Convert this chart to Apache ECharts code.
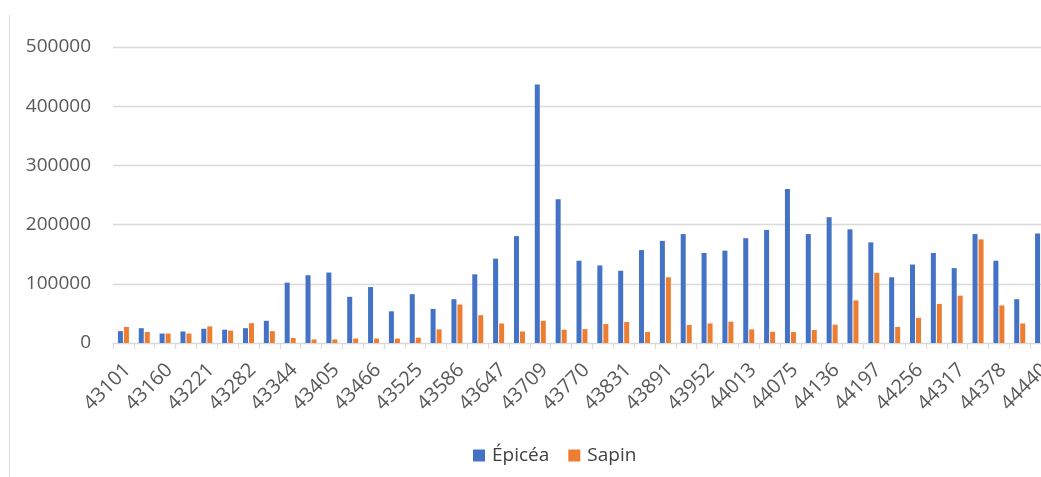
<!DOCTYPE html>
<html>
<head>
<meta charset="utf-8">
<title>Épicéa / Sapin</title>
<script src="https://cdn.jsdelivr.net/npm/echarts@6/dist/echarts.min.js"></script>
<style>
  html, body { margin: 0; padding: 0; background: #ffffff; }
  #chart { width: 1041px; height: 477px; }
</style>
</head>
<body>
<div id="chart"></div>
<script>
// Monthly periods as spreadsheet date serials (Jan 2018 – Sep 2021)
const categories = [
  43101, 43132, 43160, 43191, 43221, 43252, 43282, 43313, 43344, 43374, 43405, 43435,
  43466, 43497, 43525, 43556, 43586, 43617, 43647, 43678, 43709, 43739, 43770, 43800,
  43831, 43862, 43891, 43922, 43952, 43983, 44013, 44044, 44075, 44105, 44136, 44166,
  44197, 44228, 44256, 44287, 44317, 44348, 44378, 44409, 44440
];

const epicea = [
  20000, 25000, 16000, 19500, 24000, 22500, 25000, 37500, 102000, 114500, 119000, 78000,
  94500, 53500, 82500, 57500, 74000, 116000, 142500, 180500, 436500, 243000, 139000, 131000,
  122000, 157000, 172500, 184000, 152000, 156000, 177000, 191000, 260000, 184000, 212500, 192000,
  170000, 111000, 132500, 152000, 126500, 184000, 139000, 74000, 185000
];

const sapin = [
  27000, 18500, 16000, 16000, 28000, 21000, 33500, 20000, 8500, 6000, 6000, 7500,
  7500, 7500, 9000, 23000, 65000, 47000, 33000, 19500, 37500, 22500, 23500, 32000,
  35500, 18500, 111000, 30500, 33000, 36000, 23000, 19000, 18500, 22000, 31000, 72000,
  118500, 27000, 42500, 66000, 80000, 175000, 63500, 33000, 30000
];

const yTicks = { min: 0, max: 500000, interval: 100000 };

const FONT = '"Open Sans", "Liberation Sans", sans-serif';
const BLUE = '#4472C4';
const ORANGE = '#ED7D31';

const chart = echarts.init(document.getElementById('chart'), null, { renderer: 'canvas' });

chart.setOption({
  animation: false,
  backgroundColor: '#ffffff',
  textStyle: { fontFamily: FONT },
  graphic: [{
    type: 'line',
    shape: { x1: 9.5, y1: 15, x2: 9.5, y2: 477 },
    style: { stroke: '#d9d9d9', lineWidth: 1 },
    silent: true
  }],
  legend: {
    data: ['Épicéa', 'Sapin'],
    left: 468,
    top: 441,
    icon: 'rect',
    itemWidth: 12,
    itemHeight: 12,
    itemGap: 19,
    textStyle: { fontFamily: FONT, fontSize: 19, color: '#404040', padding: [0, 0, 0, 2] }
  },
  grid: {
    left: 113,
    top: 47,
    width: 938,
    bottom: 134,
    containLabel: false,
    outerBoundsMode: 'none'
  },
  xAxis: {
    type: 'category',
    data: categories,
    boundaryGap: true,
    axisLine: { show: true, lineStyle: { color: '#d9d9d9', width: 1 } },
    axisTick: { show: true, alignWithLabel: false, interval: 0, length: 6, lineStyle: { color: '#d9d9d9' } },
    axisLabel: {
      interval: 1,
      rotate: 45,
      margin: 28,
      padding: [5, -6, 0, 0],
      fontFamily: FONT,
      fontSize: 20,
      color: '#595959'
    },
    splitLine: { show: false }
  },
  yAxis: {
    type: 'value',
    min: yTicks.min,
    max: yTicks.max,
    interval: yTicks.interval,
    axisLine: { show: false },
    axisTick: { show: false },
    axisLabel: {
      margin: 22,
      fontFamily: FONT,
      fontSize: 19,
      color: '#595959',
      formatter: function (v) { return String(v); }
    },
    splitLine: { show: true, lineStyle: { color: '#d9d9d9', width: 1.3 } }
  },
  series: [
    {
      name: 'Épicéa',
      type: 'bar',
      data: epicea,
      barWidth: 5,
      barGap: '20%',
      itemStyle: { color: BLUE }
    },
    {
      name: 'Sapin',
      type: 'bar',
      data: sapin,
      barWidth: 5,
      barGap: '20%',
      itemStyle: { color: ORANGE }
    }
  ]
});
</script>
</body>
</html>
